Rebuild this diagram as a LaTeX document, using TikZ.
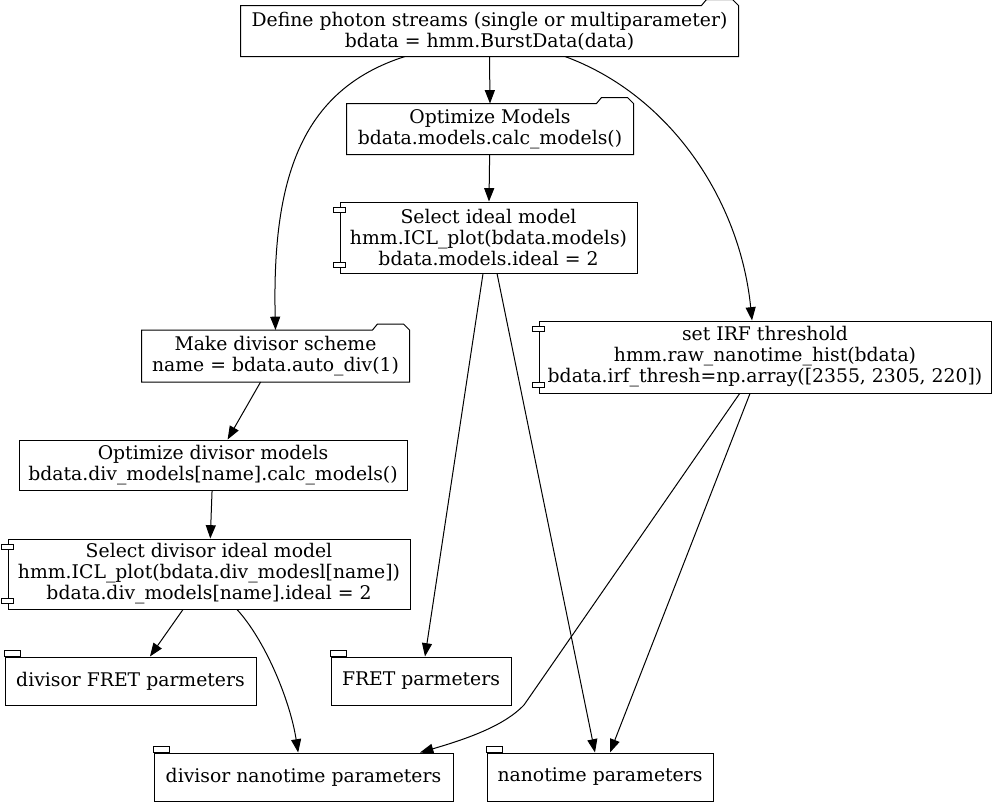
\documentclass[tikz,border=0pt]{standalone}
\usepackage{fontspec}
\setmainfont{DejaVu Serif}
\usetikzlibrary{arrows.meta}
\begin{document}
\begin{tikzpicture}[x=0.75pt, y=-0.75pt, line width=0.75pt,
  font=\fontsize{14.1}{15.75}\selectfont,
  box/.style={draw, rectangle, align=center, inner sep=0pt},
  folder/.style={rectangle, align=center, inner sep=0pt},
  flow/.style={-{Triangle[length=10pt, width=7.5pt]}}]
\useasboundingbox (0,0) rectangle (997,807);
\node[folder, minimum width=372.75pt, minimum height=37.5pt] (define) at (489.5,31) {Define photon streams (single or multiparameter)\\bdata = hmm.BurstData(data)};
\node[folder, minimum width=214.5pt, minimum height=37.5pt] (optimize) at (490,129) {Optimize Models\\bdata.models.calc\_models()};
\node[box, minimum width=222.75pt, minimum height=53.25pt] (selideal) at (488.5,237.5) {Select ideal model\\hmm.ICL\_plot(bdata.models)\\bdata.models.ideal = 2};
\node[folder, minimum width=200.25pt, minimum height=38.25pt] (makediv) at (275.5,356) {Make divisor scheme\\name = bdata.auto\_div(1)};
\node[box, minimum width=339pt, minimum height=54pt] (irf) at (765,357) {set IRF threshold\\hmm.raw\_nanotime\_hist(bdata)\\bdata.irf\_thresh=np.array([2355, 2305, 220])};
\node[box, minimum width=291pt, minimum height=37.5pt] (optdiv) at (213,465) {Optimize divisor models\\bdata.div\_models[name].calc\_models()};
\node[box, minimum width=301.5pt, minimum height=52.5pt] (seldiv) at (209,574) {Select divisor ideal model\\hmm.ICL\_plot(bdata.div\_modesl[name])\\bdata.div\_models[name].ideal = 2};
\node[box, minimum width=188.25pt, minimum height=36pt] (divfret) at (130.5,681) {divisor FRET parmeters};
\node[box, minimum width=135pt, minimum height=36pt] (fret) at (421,681) {FRET parmeters};
\node[box, minimum width=224.25pt, minimum height=36pt] (divnano) at (303.5,777) {divisor nanotime parameters};
\node[box, minimum width=169.5pt, minimum height=36pt] (nano) at (600,777) {nanotime parameters};
% folder outlines with the tab at the top right
\foreach \n in {define, optimize, makediv}
  \draw (\n.north west) -- (\n.south west) -- (\n.south east) -- (\n.north east)
    -- ++(-6,-6) -- ++(-26,0) -- ++(-5,6) -- cycle;
% component ports
\foreach \n in {selideal, irf, seldiv} {
  \draw[fill=white] ([shift={(-6,6)}]\n.north west) rectangle ++(12,5);
  \draw[fill=white] ([shift={(-6,-6)}]\n.south west) rectangle ++(12,-5);
}
% tabs
\foreach \n in {divfret, fret, divnano, nano}
  \draw (\n.north west) rectangle ++(16,-6);
\coordinate (bend) at (524,705);
\draw[flow] (define.south) -- (optimize.north);
\draw[flow] (optimize) -- (selideal);
\draw[flow] ([xshift=-63.4pt]define.south) .. controls (300,90) and (272,180) .. (makediv.north);
\draw[flow] ([xshift=56.6pt]define.south) .. controls (670,95) and (740,200) .. ([xshift=-9.75pt]irf.north);
\draw[flow] ([xshift=-4.1pt]selideal.south) -- ([xshift=3pt]fret.north);
\draw[flow] ([xshift=6.4pt]selideal.south) -- ([xshift=-3.75pt]nano.north);
\draw[flow] (makediv) -- (optdiv);
\draw[flow] (optdiv) -- (seldiv);
\draw[flow] ([xshift=-19.5pt]seldiv.south) -- ([xshift=14.6pt]divfret.north);
\draw[flow] ([xshift=21pt]seldiv.south) .. controls (265,640) and (290,700) .. ([xshift=-4pt]divnano.north);
\draw[flow] ([xshift=-19pt]irf.south) -- (bend) .. controls (505,725) and (470,738) .. ([xshift=87.4pt]divnano.north);
\draw[flow] ([xshift=-11.25pt]irf.south) -- ([xshift=7.5pt]nano.north);
\end{tikzpicture}
\end{document}
